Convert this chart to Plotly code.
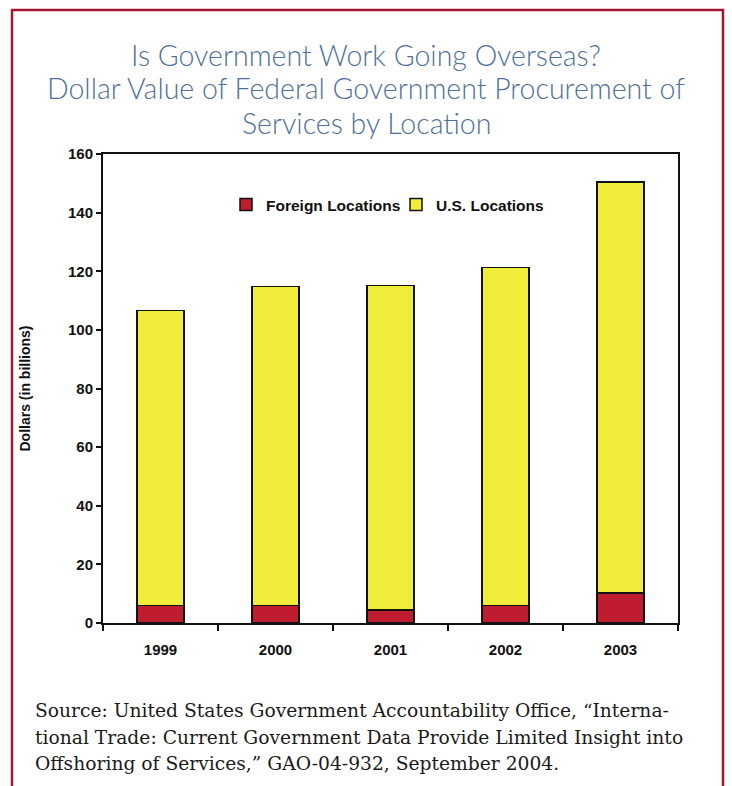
import plotly.graph_objects as go

years = ["1999", "2000", "2001", "2002", "2003"]
foreign = [6.0, 6.0, 4.5, 6.0, 10.2]
us = [100.6, 108.8, 110.6, 115.3, 140.3]
y_ticks = [0, 20, 40, 60, 80, 100, 120, 140, 160]

title_lines = [
    "Is Government Work Going Overseas?",
    "Dollar Value of Federal Government Procurement of",
    "Services by Location",
]
source_lines = [
    "Source: United States Government Accountability Office, \u201cInterna-",
    "tional Trade: Current Government Data Provide Limited Insight into",
    "Offshoring of Services,\u201d GAO-04-932, September 2004.",
]

W, H = 732, 786
L, R, T, B = 103, 678, 154, 623

def px_x(x):
    return (x - L) / (R - L)

def px_y(y):
    return (B - y) / (B - T)

sans = "Liberation Sans, Arial, sans-serif"

fig = go.Figure()
fig.add_bar(x=years, y=foreign, name="Foreign Locations",
            marker=dict(color="#C01C30", line=dict(color="#111", width=1.5)))
fig.add_bar(x=years, y=us, name="U.S. Locations",
            marker=dict(color="#F0EC3A", line=dict(color="#111", width=1.5)))

annotations = []
for t, yy in zip(title_lines, [55, 88, 123]):
    annotations.append(dict(text=t, x=px_x(366), y=px_y(yy), xref="paper", yref="paper",
                            xanchor="center", yanchor="middle", showarrow=False,
                            font=dict(family="Lato, sans-serif", size=28.5, weight=300,
                                      color="#4F7199")))
for t, yy in zip(source_lines, [710, 737, 763]):
    annotations.append(dict(text=t, x=px_x(33), y=px_y(yy), xref="paper", yref="paper",
                            xanchor="left", yanchor="middle", showarrow=False,
                            font=dict(family="DejaVu Serif, serif", size=18.7, color="#1a1a1a")))

fig.update_layout(
    width=W, height=H,
    margin=dict(l=L, r=W - R, t=T, b=H - B, pad=0),
    paper_bgcolor="white", plot_bgcolor="white",
    barmode="stack", bargap=0.59,
    showlegend=True,
    legend=dict(orientation="h", x=px_x(226), y=px_y(205), xanchor="left", yanchor="middle",
                traceorder="normal",
                font=dict(family=sans, size=15.5, weight="bold", color="#111"),
                bgcolor="rgba(0,0,0,0)", entrywidth=125, entrywidthmode="pixels"),
    annotations=annotations,
    shapes=[dict(type="rect", xref="paper", yref="paper",
                 x0=px_x(12), x1=px_x(723), y0=px_y(830), y1=px_y(10),
                 line=dict(color="#A6152E", width=2.5), fillcolor="rgba(0,0,0,0)",
                 layer="below")],
    xaxis=dict(type="category", showgrid=False, showline=True, linecolor="#111", linewidth=2,
               mirror=True, ticks="outside", tickson="boundaries", ticklen=6, tickwidth=2,
               tickcolor="#111", ticklabelstandoff=12,
               tickfont=dict(family=sans, size=15, weight="bold", color="#111")),
    yaxis=dict(range=[0, 160], tickvals=y_ticks, showgrid=False, zeroline=False,
               showline=True, linecolor="#111", linewidth=2, mirror=True,
               ticks="outside", ticklen=5, tickwidth=2, tickcolor="#111",
               tickfont=dict(family=sans, size=15, weight="bold", color="#111"),
               title=dict(text="Dollars (in billions)", standoff=34,
                          font=dict(family=sans, size=14, weight="bold", color="#111"))),
)

fig.write_html("out.html")
